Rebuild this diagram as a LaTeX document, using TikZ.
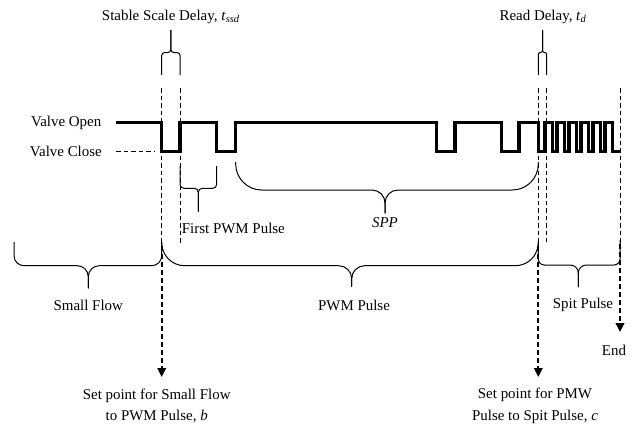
\documentclass[tikz,border=0pt]{standalone}
\usepackage{fontspec}
\setmainfont{Liberation Serif}
\usetikzlibrary{arrows.meta}
\tikzset{
 wave/.style={line width=3.3bp, line join=miter},
 thindash/.style={line width=1bp, dash pattern=on 4.5bp off 3bp},
 arrdash/.style={line width=2bp, dash pattern=on 5bp off 3bp, -{Triangle[width=8.5bp,length=9bp]}},
 braceline/.style={line width=1bp},
 lbl/.style={inner sep=0pt, font=\fontsize{15}{21.7}\selectfont},
}
% #1 xl, #2 xr, #3 leg end y, #4 horizontal y, #5 tip x, #6 tip end y, #7 corner r, #8 tip r
\newcommand{\wbrace}[8]{%
 \pgfmathsetmacro\bS{ifthenelse(#4>#3,1,-1)}%
 \pgfmathsetmacro\bA{#4-\bS*#7}%
 \pgfmathsetmacro\bB{#4-\bS*0.448*#7}%
 \pgfmathsetmacro\bC{#4+\bS*#8}%
 \pgfmathsetmacro\bD{#4+\bS*0.448*#8}%
 \draw[braceline] (#1,#3) -- (#1,\bA) .. controls (#1,\bB) and ({#1+0.448*#7},#4) .. ({#1+#7},#4) -- ({#5-#8},#4) .. controls ({#5-0.448*#8},#4) and (#5,\bD) .. (#5,\bC) -- (#5,#6);
 \draw[braceline] (#2,#3) -- (#2,\bA) .. controls (#2,\bB) and ({#2-0.448*#7},#4) .. ({#2-#7},#4) -- ({#5+#8},#4) .. controls ({#5+0.448*#8},#4) and (#5,\bD) .. (#5,\bC) -- (#5,#6);
}
\begin{document}
\begin{tikzpicture}[x=1bp,y=-1bp]
\path[use as bounding box] (0,0) rectangle (636,425);

% labels
\node[lbl] (ssd) at (170.8,17) {Stable Scale Delay, \textit{t}\textsubscript{\textit{ssd}}};
\node[lbl] (rd) at (543,17) {Read Delay, \textit{t}\textsubscript{\textit{d}}};
\node[lbl, anchor=east] (vo) at (101.5,122.7) {Valve Open};
\node[lbl, anchor=east] (vc) at (102,151.7) {Valve Close};
\node[lbl, anchor=west] (fpp) at (181.7,228.3) {First PWM Pulse};
\node[lbl] (spp) at (385,222.7) {\textit{SPP}};
\node[lbl] (sf) at (88.3,305) {Small Flow};
\node[lbl] (pwm) at (354,305) {PWM Pulse};
\node[lbl] (sp) at (583,305) {Spit Pulse};
\node[lbl] (end) at (614,350) {End};
\node[lbl, align=center] (spb) at (156.7,406) {Set point for Small Flow\\to PWM Pulse, \textit{b}};
\node[lbl, align=center] (spc) at (535,406) {Set point for PMW\\Pulse to Spit Pulse, \textit{c}};

% waveform
\draw[wave] (116,122.2) -- (161.7,122.2) -- (161.7,151.7) -- (180,151.7) -- (180,122.2)
 -- (216.7,122.2) -- (216.7,151.7) -- (235.7,151.7) -- (235.7,122.2)
 -- (436.7,122.2) -- (436.7,151.7) -- (455,151.7) -- (455,122.2)
 -- (501.7,122.2) -- (501.7,151.7) -- (519,151.7) -- (519,122.2)
 -- (538.3,122.2) -- (538.3,151.7) -- (545,151.7)
 foreach \k in {0,...,5} { -- ({545+12*\k},122.2) -- ({552.7+12*\k},122.2) -- ({552.7+12*\k},151.7) -- ({557+12*\k},151.7) }
 -- (620,151.7);
\draw[thindash] (116,151.7) -- (154,151.7);

% coordinates for dashed guides
\coordinate (b0) at (161.7,88);
\coordinate (b1) at (161.7,246);
\coordinate (b2) at (161.7,377);
\coordinate (s0) at (180,88);
\coordinate (s1) at (180,243.3);
\coordinate (c0) at (538.3,88);
\coordinate (c1) at (538.3,246);
\coordinate (c2) at (538.3,377);
\coordinate (r0) at (546.7,88);
\coordinate (r1) at (546.7,242);
\coordinate (e0) at (620,88);
\coordinate (e1) at (620,244);
\coordinate (e2) at (620,332);

\draw[thindash] (b0) -- (b1);
\draw[thindash] (s0) -- (s1);
\draw[thindash] (c0) -- (c1);
\draw[thindash] (r0) -- (r1);
\draw[thindash] (e0) -- (e1);
\draw[arrdash] (b1) -- (b2);
\draw[arrdash] (c1) -- (c2);
\draw[arrdash] (e1) -- (e2);

% braces
\wbrace{161.7}{180}{75}{52.5}{170.8}{30}{3}{3}
\wbrace{538.3}{546.7}{75}{52.5}{542.5}{30}{2}{2}
\wbrace{180}{216.7}{166}{188.3}{198.3}{211.7}{4}{4}
\wbrace{235.7}{538.3}{162}{190}{385}{213.3}{26}{13}
\wbrace{14}{161.7}{242}{265.7}{88.3}{288.3}{10}{11}
\wbrace{161.7}{538.3}{242}{265.7}{351.7}{286.7}{23}{13}
\wbrace{538.3}{620}{240}{265}{578.3}{287}{6}{8}
\end{tikzpicture}
\end{document}
